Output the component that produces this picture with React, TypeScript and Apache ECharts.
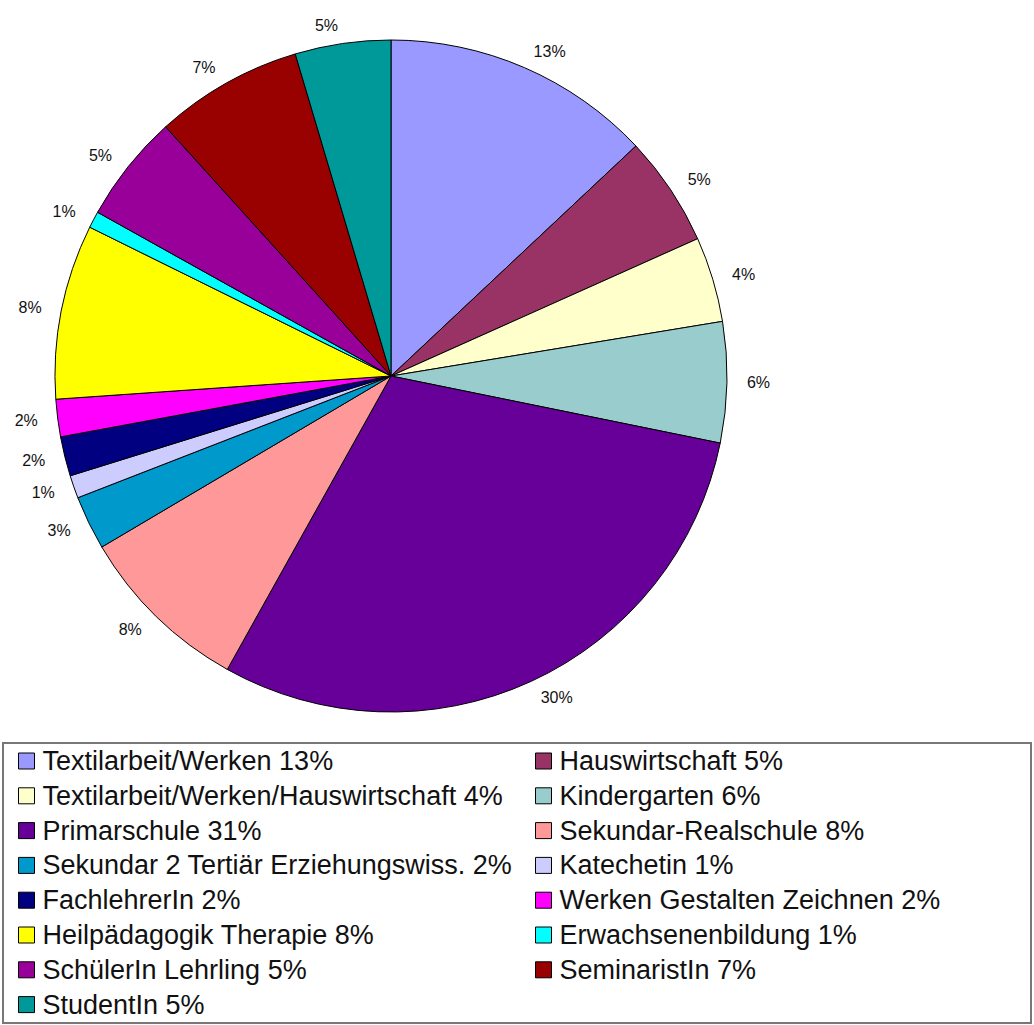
import React, { useEffect, useRef } from "react";
import * as echarts from "echarts";

const categories = [
  "Textilarbeit/Werken 13%",
  "Hauswirtschaft 5%",
  "Textilarbeit/Werken/Hauswirtschaft 4%",
  "Kindergarten 6%",
  "Primarschule 31%",
  "Sekundar-Realschule 8%",
  "Sekundar 2 Tertiär Erziehungswiss. 2%",
  "Katechetin 1%",
  "FachlehrerIn 2%",
  "Werken Gestalten Zeichnen 2%",
  "Heilpädagogik Therapie 8%",
  "Erwachsenenbildung 1%",
  "SchülerIn Lehrling 5%",
  "SeminaristIn 7%",
  "StudentIn 5%",
];

const values = [13.0, 5.3, 4.1, 5.8, 29.9, 8.4, 2.6, 1.1, 1.9, 1.8, 8.4, 0.8, 5.2, 7.1, 4.6];

const colors = [
  "#9999FF",
  "#993366",
  "#FFFFCC",
  "#99CCCC",
  "#660099",
  "#FF9999",
  "#0099CC",
  "#CCCCFF",
  "#000080",
  "#FF00FF",
  "#FFFF00",
  "#00FFFF",
  "#990099",
  "#990000",
  "#009999",
];

const leftLegend = categories.filter((_, i) => i % 2 === 0);
const rightLegend = categories.filter((_, i) => i % 2 === 1);

export default function App() {
  const ref = useRef<HTMLDivElement>(null);
  useEffect(() => {
    if (!ref.current) return;
    const chart = echarts.init(ref.current, undefined, { renderer: "svg" });
    const legendCommon = {
      orient: "vertical" as const,
      top: 746,
      padding: 0,
      itemWidth: 16,
      itemHeight: 16,
      itemGap: 4.8,
      icon: "rect",
      itemStyle: { borderColor: "#000", borderWidth: 1 },
      textStyle: {
        fontFamily: "Liberation Sans, Arial, sans-serif",
        fontSize: 27,
        lineHeight: 30,
        color: "#111",
        padding: [0, 0, 0, 3],
      },
    };
    chart.setOption({
      animation: false,
      backgroundColor: "#fff",
      color: colors,
      graphic: [
        {
          type: "rect",
          shape: { x: 3, y: 743, width: 1028, height: 280 },
          style: { fill: "none", stroke: "#777", lineWidth: 2 },
          z: -1,
        },
      ],
      legend: [
        { ...legendCommon, left: 18, data: leftLegend },
        { ...legendCommon, left: 535, data: rightLegend },
      ],
      series: [
        {
          type: "pie",
          center: [391, 376],
          radius: 336,
          startAngle: 90,
          clockwise: true,
          avoidLabelOverlap: false,
          percentPrecision: 0,
          itemStyle: { borderColor: "#000", borderWidth: 1 },
          label: {
            show: true,
            position: "outside",
            formatter: "{d}%",
            fontFamily: "Liberation Sans, Arial, sans-serif",
            fontSize: 16,
            color: "#111",
            distanceToLabelLine: 2,
          },
          labelLine: { show: false, length: 18, length2: 0 },
          emphasis: { disabled: true },
          data: categories.map((name, i) => ({ name, value: values[i] })),
        },
      ],
    });
    return () => chart.dispose();
  }, []);
  return (
    <div
      ref={ref}
      style={{ position: "absolute", left: 0, top: 0, width: 1034, height: 1025 }}
    />
  );
}
